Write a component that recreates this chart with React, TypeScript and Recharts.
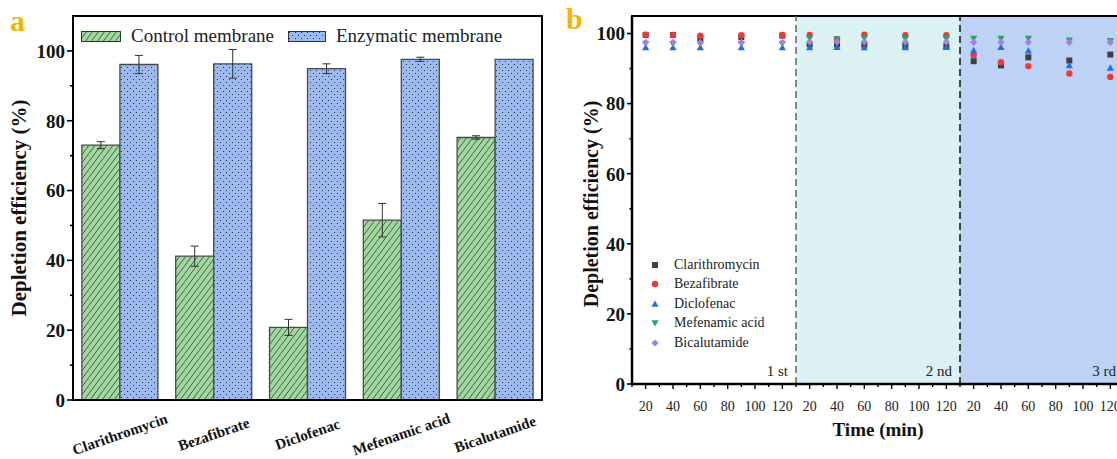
import {
  BarChart,
  Bar,
  ErrorBar,
  XAxis,
  YAxis,
  ReferenceArea,
  ReferenceLine,
  ScatterChart,
  Scatter,
} from "recharts";

const FONT = '"Liberation Serif", "Times New Roman", serif';

// panel a
const drugs = ["Clarithromycin", "Bezafibrate", "Diclofenac", "Mefenamic acid", "Bicalutamide"];
const controlMean = [73.0, 41.2, 20.8, 51.5, 75.2];
const controlErr = [1.0, 2.9, 2.3, 4.8, 0.5];
const enzymeMean = [96.1, 96.3, 94.9, 97.6, 97.6];
const enzymeErr = [2.6, 4.1, 1.4, 0.6, 0];
const barTicks = [0, 10, 20, 30, 40, 50, 60, 70, 80, 90, 100];

// panel b
const sampleTimes = [20, 40, 60, 90, 120];
const cycles = ["1 st", "2 nd", "3 rd"];
const timeLabels = [20, 40, 60, 80, 100, 120];
const timeMinor = [10, 30, 50, 70, 90, 110];
const scatterTicks = [0, 10, 20, 30, 40, 50, 60, 70, 80, 90, 100];

const clarithromycinRuns = [
  [99.6, 99.6, 98.7, 99.0, 99.4],
  [96.9, 96.9, 96.8, 96.5, 96.3],
  [92.1, 90.9, 93.2, 92.3, 94.0],
];
const bezafibrateRuns = [
  [99.7, 99.6, 99.4, 99.5, 99.6],
  [99.6, 98.4, 99.7, 99.5, 99.5],
  [93.8, 91.8, 90.7, 88.6, 87.6],
];
const diclofenacRuns = [
  [96.0, 96.0, 96.0, 96.0, 96.0],
  [96.0, 96.1, 96.0, 96.0, 96.1],
  [95.2, 96.1, 95.1, 90.9, 90.2],
];
const mefenamicRuns = [
  [97.1, 97.0, 97.0, 97.1, 97.1],
  [98.6, 98.4, 98.6, 98.5, 98.5],
  [98.6, 98.6, 98.6, 98.1, 97.9],
];
const bicalutamideRuns = [
  [97.5, 97.5, 97.4, 97.5, 97.5],
  [97.6, 97.6, 97.6, 97.6, 97.6],
  [97.5, 97.5, 97.5, 97.5, 97.5],
];

const barData = drugs.map((name, i) => ({
  name,
  control: controlMean[i],
  controlErr: controlErr[i],
  enzyme: enzymeMean[i],
  enzymeErr: enzymeErr[i],
}));

// each run is drawn on its own 10..130 min window, laid side by side
const CYCLE_SPAN = 120;
const toAxis = (cycle: number, t: number) => cycle * CYCLE_SPAN + (t - 10);

const toPoints = (runs: number[][]) =>
  runs.flatMap((vals, c) => vals.map((v, i) => ({ x: toAxis(c, sampleTimes[i]), y: v })));

type Kind = "square" | "circle" | "triangle" | "triangleDown" | "diamond";

const series: { name: string; color: string; kind: Kind; runs: number[][] }[] = [
  { name: "Clarithromycin", color: "#3f3f3f", kind: "square", runs: clarithromycinRuns },
  { name: "Bezafibrate", color: "#f0383c", kind: "circle", runs: bezafibrateRuns },
  { name: "Diclofenac", color: "#1e6fe0", kind: "triangle", runs: diclofenacRuns },
  { name: "Mefenamic acid", color: "#2ea060", kind: "triangleDown", runs: mefenamicRuns },
  { name: "Bicalutamide", color: "#a77ee0", kind: "diamond", runs: bicalutamideRuns },
];

const xTicks = [
  ...cycles.flatMap((_, c) => [...timeLabels, ...timeMinor].map((t) => toAxis(c, t))),
  CYCLE_SPAN * cycles.length,
].sort((a, b) => a - b);

function Marker({ kind, cx, cy, color }: { kind: Kind; cx: number; cy: number; color: string }) {
  const r = 3.6;
  switch (kind) {
    case "square":
      return <rect x={cx - 3} y={cy - 3} width={6} height={6} fill={color} />;
    case "circle":
      return <circle cx={cx} cy={cy} r={3.2} fill={color} />;
    case "triangle":
      return <path d={`M${cx},${cy - r}L${cx + r},${cy + 2.8}L${cx - r},${cy + 2.8}Z`} fill={color} />;
    case "triangleDown":
      return <path d={`M${cx},${cy + r}L${cx + r},${cy - 2.8}L${cx - r},${cy - 2.8}Z`} fill={color} />;
    default:
      return <path d={`M${cx},${cy - r}L${cx + r},${cy}L${cx},${cy + r}L${cx - r},${cy}Z`} fill={color} />;
  }
}

const yTick = (fontSize: number, len: number) => (props: any) => {
  const { x, y, payload } = props;
  const v = payload.value;
  const major = v % 20 === 0;
  return (
    <g>
      <line x1={x} x2={x - (major ? len : len / 2)} y1={y} y2={y} stroke="#000" strokeWidth={1.6} />
      {major && (
        <text
          x={x - len - 2}
          y={y}
          dy="0.36em"
          textAnchor="end"
          fontWeight="bold"
          fontSize={fontSize}
          fontFamily={FONT}
          fill="#111"
        >
          {v}
        </text>
      )}
    </g>
  );
};

function DrugTick(props: any) {
  const { x, y, payload } = props;
  const cy = y + 34;
  return (
    <text
      x={x}
      y={cy}
      dy="0.35em"
      textAnchor="middle"
      transform={`rotate(-19 ${x} ${cy})`}
      fontWeight="bold"
      fontSize={15}
      fontFamily={FONT}
      fill="#111"
    >
      {payload.value}
    </text>
  );
}

function TimeTick(props: any) {
  const { x, y, payload } = props;
  const p = payload.value;
  const t = (p % CYCLE_SPAN) + 10;
  const major = timeLabels.includes(t) && p < CYCLE_SPAN * cycles.length;
  return (
    <g>
      <line x1={x} x2={x} y1={y} y2={y + (major ? 5 : 3)} stroke="#000" strokeWidth={1.4} />
      {major && (
        <text x={x} y={y + 27} textAnchor="middle" fontSize={14} fontFamily={FONT} fill="#222">
          {t}
        </text>
      )}
    </g>
  );
}

const cycleFill = ["none", "#dcf1f4", "#bed2f6"];
const cycleLine = ["#666", "#111"];

export default function App() {
  return (
    <div
      style={{
        position: "fixed",
        left: 0,
        top: 0,
        width: 1117,
        height: 459,
        overflow: "hidden",
        background: "#fff",
        fontFamily: FONT,
      }}
    >
      <svg width={0} height={0} style={{ position: "absolute" }}>
        <defs>
          <pattern id="hatchGreen" patternUnits="userSpaceOnUse" width={6} height={8}>
            <rect width={6} height={8} fill="#a0d8a0" />
            <path d="M0,8L6,0M-3,4L3,-4M3,12L9,4" stroke="#1f2a1f" strokeWidth={0.7} />
          </pattern>
          <pattern id="dotBlue" patternUnits="userSpaceOnUse" width={6} height={6}>
            <rect width={6} height={6} fill="#9bb9f2" />
            <circle cx={1.5} cy={1.5} r={0.55} fill="#1a1a1a" />
            <circle cx={4.5} cy={4.5} r={0.55} fill="#1a1a1a" />
          </pattern>
        </defs>
      </svg>

      {/* panel a */}
      <div style={{ position: "absolute", left: 0, top: 0 }}>
        <BarChart
          width={560}
          height={459}
          data={barData}
          margin={{ top: 16, right: 18, bottom: 0, left: 0 }}
          barCategoryGap="9.5%"
          barGap={0}
        >
          <XAxis
            dataKey="name"
            height={59}
            interval={0}
            tickLine={false}
            tickSize={0}
            tickMargin={0}
            tick={DrugTick}
            axisLine={{ stroke: "#000", strokeWidth: 2 }}
          />
          <YAxis
            width={73}
            domain={[0, 110]}
            ticks={barTicks}
            interval={0}
            tickLine={false}
            tickSize={0}
            tickMargin={0}
            tick={yTick(19, 6)}
            axisLine={{ stroke: "#000", strokeWidth: 2 }}
          />
          <Bar dataKey="control" fill="url(#hatchGreen)" stroke="#4a4a4a" strokeWidth={1.3} isAnimationActive={false}>
            <ErrorBar dataKey="controlErr" width={4} stroke="#333" strokeWidth={1} />
          </Bar>
          <Bar dataKey="enzyme" fill="url(#dotBlue)" stroke="#4a4a4a" strokeWidth={1.3} isAnimationActive={false}>
            <ErrorBar dataKey="enzymeErr" width={4} stroke="#333" strokeWidth={1} />
          </Bar>
          <ReferenceArea y1={0} y2={110} fill="none" stroke="#000" strokeWidth={2} />
        </BarChart>
      </div>

      {/* panel b */}
      <div style={{ position: "absolute", left: 560, top: 0 }}>
        <ScatterChart width={600} height={459} margin={{ top: 16, right: 36, bottom: 0, left: 0 }}>
          {cycles.map((label, c) => (
            <ReferenceArea
              key={label}
              x1={c * CYCLE_SPAN}
              x2={(c + 1) * CYCLE_SPAN}
              y1={0}
              y2={105}
              fill={cycleFill[c]}
              fillOpacity={1}
              stroke="none"
              label={{
                value: label,
                position: "insideBottomRight",
                offset: 8,
                fill: "#222",
                fontSize: 15,
                fontFamily: FONT,
              }}
            />
          ))}
          {cycleLine.map((col, i) => (
            <ReferenceLine
              key={i}
              x={(i + 1) * CYCLE_SPAN}
              stroke={col}
              strokeWidth={1.5}
              strokeDasharray="7 4"
            />
          ))}
          <XAxis
            type="number"
            dataKey="x"
            domain={[0, CYCLE_SPAN * cycles.length]}
            ticks={xTicks}
            interval={0}
            height={75}
            tickLine={false}
            tickSize={0}
            tickMargin={0}
            tick={TimeTick}
            axisLine={{ stroke: "#000", strokeWidth: 2.5 }}
            allowDataOverflow
          />
          <YAxis
            type="number"
            dataKey="y"
            width={72}
            domain={[0, 105]}
            ticks={scatterTicks}
            interval={0}
            tickLine={false}
            tickSize={0}
            tickMargin={0}
            tick={yTick(19, 5)}
            axisLine={{ stroke: "#000", strokeWidth: 2.5 }}
            allowDataOverflow
          />
          {series.map((s) => (
            <Scatter
              key={s.name}
              name={s.name}
              data={toPoints(s.runs)}
              fill={s.color}
              isAnimationActive={false}
              shape={(p: any) => <Marker kind={s.kind} cx={p.cx} cy={p.cy} color={s.color} />}
            />
          ))}
          <ReferenceArea
            x1={0}
            x2={CYCLE_SPAN * cycles.length}
            y1={0}
            y2={105}
            fill="none"
            stroke="#000"
            strokeWidth={2}
          />
        </ScatterChart>
      </div>

      {/* panel letters and axis titles */}
      <div style={{ position: "absolute", left: 10, top: 4, fontSize: 30, fontWeight: "bold", color: "#f5b400" }}>a</div>
      <div style={{ position: "absolute", left: 566, top: 2, fontSize: 30, fontWeight: "bold", color: "#f5b400" }}>b</div>
      <div
        style={{
          position: "absolute",
          left: 19,
          top: 208,
          transform: "translate(-50%, -50%) rotate(-90deg)",
          whiteSpace: "nowrap",
          fontSize: 21,
          fontWeight: "bold",
          color: "#111",
        }}
      >
        Depletion efficiency (%)
      </div>
      <div
        style={{
          position: "absolute",
          left: 591,
          top: 204,
          transform: "translate(-50%, -50%) rotate(-90deg)",
          whiteSpace: "nowrap",
          fontSize: 20,
          fontWeight: "bold",
          color: "#111",
        }}
      >
        Depletion efficiency (%)
      </div>
      <div
        style={{
          position: "absolute",
          left: 878,
          top: 430,
          transform: "translate(-50%, -50%)",
          whiteSpace: "nowrap",
          fontSize: 19,
          fontWeight: "bold",
          color: "#111",
        }}
      >
        Time (min)
      </div>

      {/* legend a */}
      <div style={{ position: "absolute", left: 81, top: 25, display: "flex", alignItems: "center", fontSize: 19, color: "#222" }}>
        <svg width={40} height={11} style={{ marginRight: 10 }}>
          <rect x={0.5} y={0.5} width={39} height={10} fill="url(#hatchGreen)" stroke="#333" />
        </svg>
        <span style={{ marginRight: 14 }}>Control membrane</span>
        <svg width={38} height={11} style={{ marginRight: 10 }}>
          <rect x={0.5} y={0.5} width={37} height={10} fill="url(#dotBlue)" stroke="#333" />
        </svg>
        <span>Enzymatic membrane</span>
      </div>

      {/* legend b */}
      <div style={{ position: "absolute", left: 650, top: 255, fontSize: 14, color: "#222" }}>
        {series.map((s) => (
          <div key={s.name} style={{ display: "flex", alignItems: "center", height: 19.5 }}>
            <svg width={10} height={10} style={{ marginRight: 14 }}>
              <Marker kind={s.kind} cx={5} cy={5} color={s.color} />
            </svg>
            <span>{s.name}</span>
          </div>
        ))}
      </div>
    </div>
  );
}
